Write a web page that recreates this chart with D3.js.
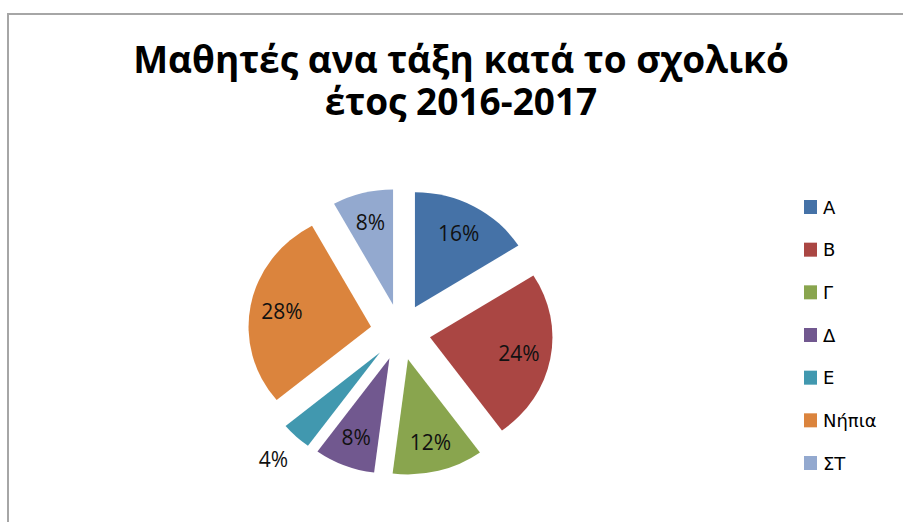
<!DOCTYPE html>
<html>
<head>
  <meta charset="utf-8">
  <script src="https://d3js.org/d3.v7.min.js"></script>
  <style>
    body { margin: 0; background: #fff; }
    .title { font-family: "Open Sans", "Noto Sans", sans-serif; font-weight: bold; fill: #000; }
    .slice-label { font-family: "Open Sans", "Noto Sans", sans-serif; font-size: 21px; fill: #111; }
    .legend-label { font-family: "DejaVu Sans", sans-serif; font-size: 18px; fill: #000; }
  </style>
</head>
<body>
  <svg id="chart" width="903" height="522"></svg>

<script>
  // data
  const categories = ["Α", "Β", "Γ", "Δ", "Ε", "Νήπια", "ΣΤ"];
  const percents = [16, 24, 12, 8, 4, 28, 8];
  const colors = ["#4572A7", "#AA4643", "#89A54E", "#71588F", "#4198AF", "#DB843D", "#93A9CF"];
  const titleLines = ["Μαθητές ανα τάξη κατά το σχολικό", "έτος 2016-2017"];

  const svg = d3.select("#chart");
  const width = 903, height = 522;

  // chart frame (runs off right and bottom edge like the screenshot)
  svg.append("rect")
    .attr("x", 8).attr("y", 14)
    .attr("width", width + 20).attr("height", height + 20)
    .attr("fill", "#fff")
    .attr("stroke", "#a6a6a6")
    .attr("stroke-width", 2);

  // title: one text, wrapped on two lines.
  // Calibri is narrow, so squeeze the substitute font horizontally
  const titleX = 461;
  const titleG = svg.append("g");
  const title = titleG.append("text")
    .attr("class", "title")
    .attr("text-anchor", "middle")
    .style("font-size", "37px");

  const tspans = title.selectAll("tspan")
    .data(titleLines)
    .join("tspan")
    .attr("x", 0)
    .attr("y", (d, i) => 73 + i * 42)
    .text(d => d);

  const w0 = tspans.node().getComputedTextLength();
  const sx = Math.min(1, 664 / w0);
  titleG.attr("transform", `translate(${titleX},0) scale(${sx},1)`);

  // pie
  const cx = 400.5, cy = 332;
  const radius = 122.5;
  const yScale = 0.94;
  const explode = 30;

  const pie = d3.pie().sort(null).value(d => d);
  const arcs = pie(percents);
  const arc = d3.arc().innerRadius(0).outerRadius(radius);

  const mid = d => (d.startAngle + d.endAngle) / 2;
  const offset = (d, r) => [Math.sin(mid(d)) * r, -Math.cos(mid(d)) * r];

  const pieG = svg.append("g")
    .attr("transform", `translate(${cx},${cy}) scale(1,${yScale})`);

  pieG.selectAll("path")
    .data(arcs)
    .join("path")
    .attr("transform", d => {
      const [ox, oy] = offset(d, explode);
      return `translate(${ox},${oy})`;
    })
    .attr("d", arc)
    .attr("fill", (d, i) => colors[i]);

  // labels: inside for normal slices, outside for tiny ones
  const labelR = d => explode + radius * (d.data < 5 ? 1.27 : 0.74);
  const labelG = svg.append("g").attr("transform", `translate(${cx},${cy})`);
  labelG.selectAll("text")
    .data(arcs)
    .join("text")
    .attr("class", "slice-label")
    .attr("text-anchor", "middle")
    .attr("dominant-baseline", "central")
    .attr("x", d => offset(d, labelR(d))[0])
    .attr("y", d => offset(d, labelR(d))[1] * yScale)
    .text(d => d.data + "%");

  // legend
  const legendY = d3.scalePoint()
    .domain(categories)
    .range([207, 463]);

  const legend = svg.append("g").selectAll("g")
    .data(categories)
    .join("g")
    .attr("transform", d => `translate(804,${legendY(d)})`);

  legend.append("rect")
    .attr("x", 0).attr("y", -7)
    .attr("width", 13).attr("height", 14)
    .attr("fill", (d, i) => colors[i]);

  legend.append("text")
    .attr("class", "legend-label")
    .attr("x", 19)
    .attr("y", 0)
    .attr("dominant-baseline", "central")
    .text(d => d);
</script>
</body>
</html>
